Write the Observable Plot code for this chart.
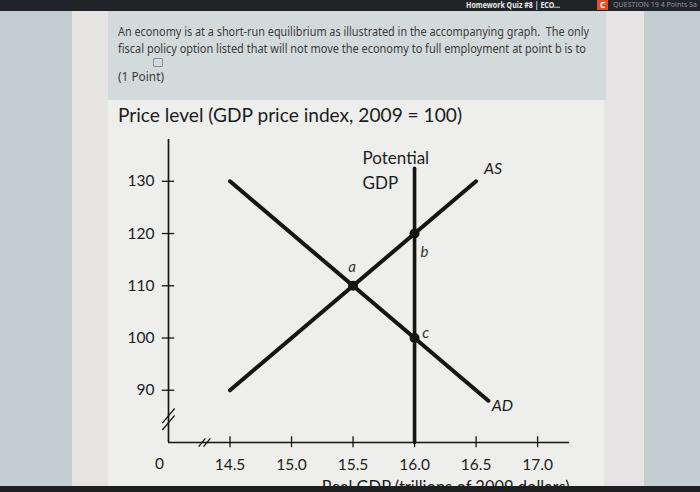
<!DOCTYPE html>
<html>
<head>
<meta charset="utf-8">
<script src="https://cdn.jsdelivr.net/npm/d3@7"></script>
<script src="https://cdn.jsdelivr.net/npm/@observablehq/plot@0.6"></script>
<style>
  html, body { margin:0; padding:0; }
  body { width:700px; height:492px; overflow:hidden; position:relative; background:#c2cecf; font-family: Lato, "Open Sans", sans-serif; }
  .abs { position:absolute; }
  #topbar { left:0; top:0; width:700px; height:11px; background:#202428; z-index:5; overflow:hidden; }
  #botbar { left:0; top:486px; width:700px; height:6px; background:#1c1e20; z-index:5; }
  #lstrip { left:72px; top:0; width:36px; height:492px; background:#e6e3e3; }
  #rstrip { left:602px; top:0; width:42px; height:492px; background:#e5e3e3; }
  #qarea { left:108px; top:0; width:498px; height:100px; background:#d3dadb; }
  #carea { left:108px; top:100px; width:496px; height:392px; background:#eeeeec; }
  .qline { left:118px; font-family:"Noto Sans","Open Sans",sans-serif; font-size:13px; line-height:15px; color:#3a3a3a; white-space:nowrap; transform-origin:0 50%; }
  #title { left:118px; top:103px; font-family: Lato, sans-serif; font-size:19px; color:#1c1c1c; white-space:nowrap; transform-origin:0 50%; }
  #chart { left:0; top:130px; }
  .tab { white-space:nowrap; transform-origin:0 50%; font-family:"Noto Sans",sans-serif; line-height:10px; }
</style>
</head>
<body>
<div id="lstrip" class="abs"></div>
<div id="rstrip" class="abs"></div>
<div id="qarea" class="abs"></div>
<div id="carea" class="abs"></div>
<div id="topbar" class="abs">
  <span class="abs tab" data-fit="94" style="left:466px;top:0;color:#e8e8e8;font-size:8px;font-weight:bold;">Homework Quiz #8 | ECO...</span>
  <span class="abs" style="left:597px;top:0;width:11px;height:10px;background:#e0522c;color:#fff;font:bold 8px 'Noto Sans',sans-serif;line-height:10px;text-align:center;">C</span>
  <span class="abs tab" data-fit="84" style="left:613px;top:0;color:#8f959a;font-size:7px;">QUESTION 19 4 Points Sa</span>
</div>
<div class="abs qline" data-fit="471" style="top:24px;">An economy is at a short-run equilibrium as illustrated in the accompanying graph.&nbsp; The only</div>
<div class="abs qline" data-fit="468" style="top:41px;">fiscal policy option listed that will not move the economy to full employment at point b is to</div>
<div class="abs" style="left:153px;top:58px;width:8px;height:7px;border:1px solid #8a8f93;border-radius:1px;"></div>
<div class="abs qline" data-fit="46" style="top:69px;">(1 Point)</div>
<div id="title" class="abs" data-fit="344">Price level (GDP price index, 2009 = 100)</div>
<div id="chart" class="abs"></div>
<div id="botbar" class="abs"></div>
<script>
// ---- data ----
const xTicks = [14.5, 15.0, 15.5, 16.0, 16.5, 17.0];
const xTickLabels = ["14.5", "15.0", "15.5", "16.0", "16.5", "17.0"];
const yTicks = [90, 100, 110, 120, 130];
const yTickLabels = ["90", "100", "110", "120", "130"];
const asCurve = [{x: 14.5, y: 90}, {x: 16.5, y: 130}];
const adCurve = [{x: 14.5, y: 130}, {x: 16.6, y: 88}];
const potentialGDP = [{x: 16.0, y: 80}, {x: 16.0, y: 132.5}];
const points = [
  {name: "a", x: 15.5, y: 110},
  {name: "b", x: 16.0, y: 120},
  {name: "c", x: 16.0, y: 100}
];
const xOrigin = 14.0, yOrigin = 80;
const xAxisEnd = 17.26, yAxisEnd = 138;
const xBreakAt = 14.28, yBreakAt = 84.6;

const ink = "#151515";
const font = "Lato, 'Open Sans', sans-serif";

const yBreaks = [
  {x1: xOrigin - 0.05, y1: yBreakAt - 2.2, x2: xOrigin + 0.05, y2: yBreakAt + 0.6},
  {x1: xOrigin - 0.05, y1: yBreakAt - 0.9, x2: xOrigin + 0.05, y2: yBreakAt + 1.9}
];
const xBreaks = [
  {x1: xBreakAt - 0.035, y1: yOrigin - 0.8, x2: xBreakAt + 0.02, y2: yOrigin + 0.8},
  {x1: xBreakAt + 0.005, y1: yOrigin - 0.8, x2: xBreakAt + 0.06, y2: yOrigin + 0.8}
];

const chart = Plot.plot({
  width: 700,
  height: 362,
  marginLeft: 168,
  marginRight: 126,
  marginTop: 9,
  marginBottom: 50,
  x: {domain: [xOrigin, 17.3], axis: null},
  y: {domain: [yOrigin, yAxisEnd], axis: null},
  style: {background: "transparent", overflow: "visible", fontFamily: font},
  marks: [
    // axes
    Plot.ruleX([xOrigin], {y1: yOrigin, y2: yAxisEnd, stroke: ink, strokeWidth: 1.7}),
    Plot.ruleY([yOrigin], {x1: xOrigin, x2: xAxisEnd, stroke: ink, strokeWidth: 1.7}),
    Plot.ruleY(yTicks, {x1: xOrigin - 0.05, x2: xOrigin + 0.05, stroke: ink, strokeWidth: 1.3}),
    Plot.ruleX(xTicks, {y1: yOrigin - 1.0, y2: yOrigin + 1.1, stroke: ink, strokeWidth: 1.3}),
    Plot.link(yBreaks, {x1: "x1", y1: "y1", x2: "x2", y2: "y2", stroke: ink, strokeWidth: 1.3}),
    Plot.link(xBreaks, {x1: "x1", y1: "y1", x2: "x2", y2: "y2", stroke: ink, strokeWidth: 1.3}),
    Plot.text(yTicks, {x: xOrigin, y: d => d, text: (d, i) => yTickLabels[i], dx: -14, textAnchor: "end", fontSize: 15.5, fill: "#1c1c1c"}),
    Plot.text(xTicks, {x: d => d, y: yOrigin, text: (d, i) => xTickLabels[i], dy: 23, fontSize: 15.5, fill: "#1c1c1c"}),
    Plot.text(["0"], {x: xOrigin, y: yOrigin, text: d => d, dx: -9, dy: 22, fontSize: 15.5, fill: "#1c1c1c"}),
    Plot.text(["Real GDP (trillions of 2009 dollars)"], {x: xAxisEnd, y: yOrigin, text: d => d, dy: 45, textAnchor: "end", fontSize: 16.5, fill: "#1c1c1c"}),
    // curves
    Plot.line(potentialGDP, {x: "x", y: "y", stroke: ink, strokeWidth: 3.6}),
    Plot.line(asCurve, {x: "x", y: "y", stroke: ink, strokeWidth: 4}),
    Plot.line(adCurve, {x: "x", y: "y", stroke: ink, strokeWidth: 4}),
    Plot.dot(points, {x: "x", y: "y", r: 5, fill: ink}),
    // labels
    Plot.text(points.filter(d => d.name === "a"), {x: "x", y: "y", text: "name", dx: -1, dy: -19, fontStyle: "italic", fontSize: 15, fill: "#333"}),
    Plot.text(points.filter(d => d.name === "b"), {x: "x", y: "y", text: "name", dx: 10, dy: 19, fontStyle: "italic", fontSize: 15, fill: "#333"}),
    Plot.text(points.filter(d => d.name === "c"), {x: "x", y: "y", text: "name", dx: 11, dy: -5, fontStyle: "italic", fontSize: 15, fill: "#333"}),
    Plot.text([asCurve[1]], {x: "x", y: "y", text: () => "AS", dx: 17, dy: -12, fontStyle: "italic", fontSize: 16, fill: "#1c1c1c"}),
    Plot.text([adCurve[1]], {x: "x", y: "y", text: () => "AD", dx: 14, dy: 5, fontStyle: "italic", fontSize: 16, fill: "#1c1c1c"}),
    Plot.text([potentialGDP[1]], {x: "x", y: "y", text: () => "Potential\nGDP", dx: -52, dy: 21, textAnchor: "start", lineAnchor: "bottom", lineHeight: 1.5, fontSize: 17, fill: "#1c1c1c"})
  ]
});
document.getElementById("chart").appendChild(chart);

// fit HTML text lines to the widths seen in the reference
document.querySelectorAll("[data-fit]").forEach(el => {
  const w = el.getBoundingClientRect().width;
  const target = +el.dataset.fit;
  if (w > 0) el.style.transform = `scaleX(${target / w})`;
});
</script>
</body>
</html>
